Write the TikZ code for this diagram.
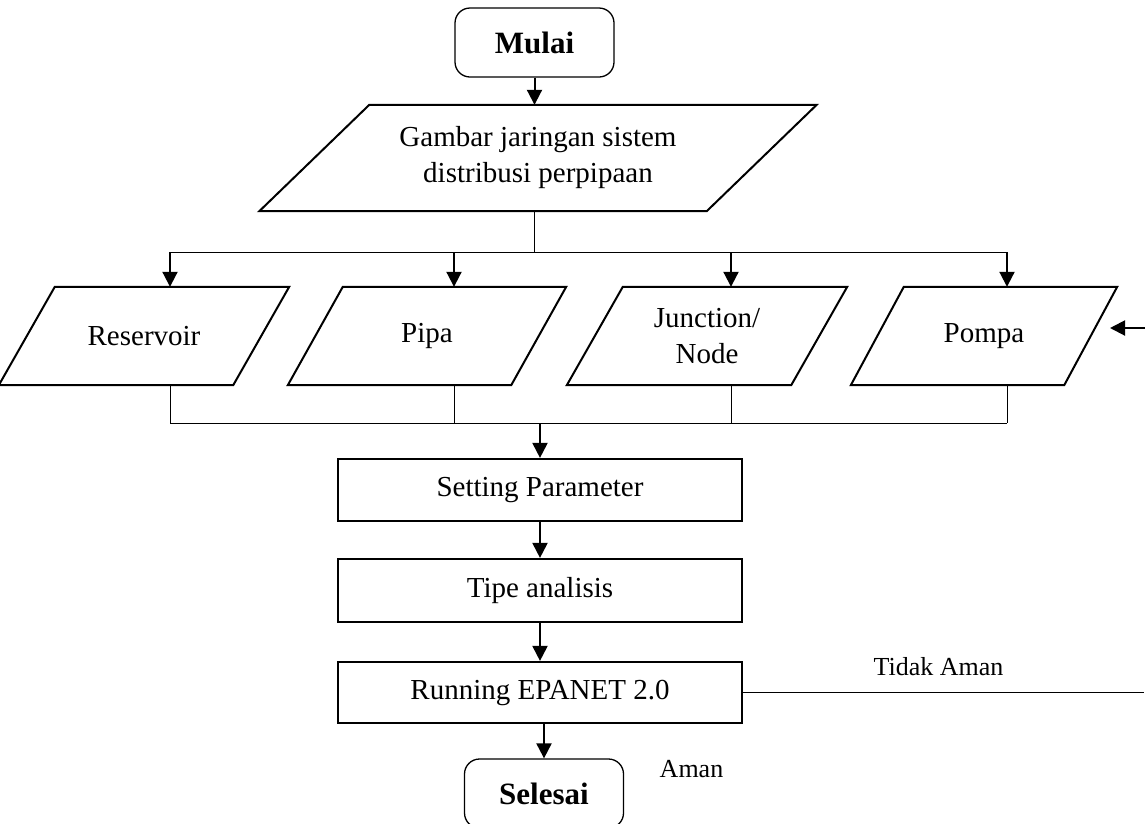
\documentclass[tikz,border=0pt]{standalone}
\usepackage{fontspec}
\setmainfont{Liberation Serif}
\usetikzlibrary{arrows.meta}
\newcommand\iopath[2]{\draw[iob] ([xshift=#2/2]#1.north west) -- ([xshift=#2/2]#1.north east) -- ([xshift=-#2/2]#1.south east) -- ([xshift=-#2/2]#1.south west) -- cycle;}
\begin{document}
\begin{tikzpicture}[x=1pt,y=-1pt,
  base/.style={font=\fontsize{29}{36}\selectfont, align=center, inner sep=0pt},
  term/.style={base, draw, line width=1.3pt, rounded corners=15pt, minimum width=159pt, minimum height=69pt, font=\bfseries\fontsize{31}{36}\selectfont},
  proc/.style={base, draw, line width=2.2pt, minimum width=404pt, minimum height=62pt},
  iotext/.style={base, minimum height=98pt},
  iob/.style={line width=2pt, line join=miter},
  arr/.style={line width=2pt, -{Triangle[length=15pt,width=15pt]}},
  ln/.style={line width=1pt},
  lbl/.style={font=\fontsize{26}{30}\selectfont, inner sep=0pt}]
\useasboundingbox (0,0) rectangle (1145,823);
\fill[white] (0,0) rectangle (1145,823);

\node[term] (mulai) at (534.5,42.5) {Mulai};
\node[iotext, minimum width=447pt, minimum height=106pt] (gambar) at (538,158) {Gambar jaringan sistem\\distribusi perpipaan};
\node[iotext, minimum width=234pt] (res) at (144,336) {Reservoir};
\node[iotext, minimum width=223pt] (pipa) at (427,336) {Pipa};
\node[iotext, minimum width=224pt] (junc) at (707,336) {Junction/\\Node};
\node[iotext, minimum width=213pt] (pompa) at (984,336) {Pompa};
\iopath{gambar}{110}
\iopath{res}{56}
\iopath{pipa}{55}
\iopath{junc}{56}
\iopath{pompa}{53}
\node[proc] (set) at (540,490) {Setting Parameter};
\node[proc, minimum height=63pt] (tipe) at (540,590.5) {Tipe analisis};
\node[proc, minimum height=61pt] (run) at (540,692.5) {Running EPANET 2.0};
\node[term] (selesai) at (544,793.5) {Selesai};
\node[lbl, anchor=base] (tidak) at (938.5,675) {Tidak Aman};
\node[lbl, anchor=base] (aman) at (691.5,777) {Aman};

\coordinate (bus1) at (536,252);
\coordinate (bus2) at (540,423);
\coordinate (loopend) at (1144,692.5);
\coordinate (backstart) at (1146,328);
\coordinate (backtip) at (1110,328);

\draw[arr] (mulai.south) -- (mulai.south |- gambar.north);
\draw[ln] (mulai.south |- gambar.south) -- (mulai.south |- bus1);
\coordinate (r1) at ([xshift=26]res.north);
\coordinate (r2) at ([xshift=27]pipa.north);
\coordinate (r3) at ([xshift=24]junc.north);
\coordinate (r4) at ([xshift=23]pompa.north);
\draw[ln] (r1 |- bus1) -- (r4 |- bus1);
\draw[ln] (r1 |- bus2) -- (r4 |- bus2);
\foreach \n/\r in {res/r1,pipa/r2,junc/r3,pompa/r4}{
  \draw[arr] (\r |- bus1) -- (\r);
  \draw[ln] (\r |- \n.south) -- (\r |- bus2);
}
\draw[arr] (set.north |- bus2) -- (set.north);
\draw[arr] (set) -- (tipe);
\draw[arr] (tipe) -- (run);
\draw[arr] (selesai.north |- run.south) -- (selesai.north);
\draw[ln] (run.east) -- (loopend);
\draw[arr] (backstart) -- (backtip);
\end{tikzpicture}
\end{document}
